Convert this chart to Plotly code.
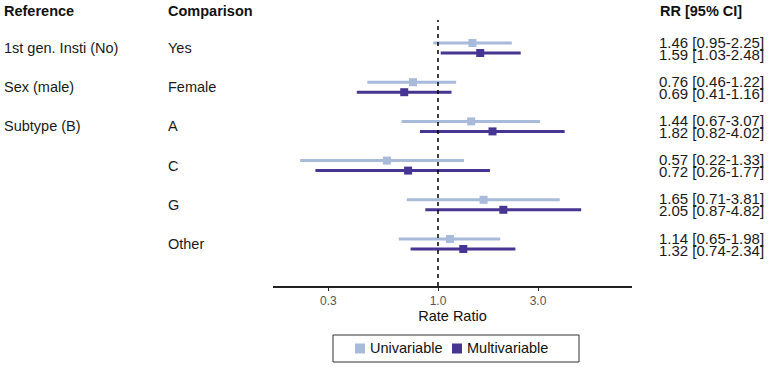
import math
import plotly.graph_objects as go

# ---- data ----
reference = ["1st gen. Insti (No)", "Sex (male)", "Subtype (B)", "", "", ""]
comparison = ["Yes", "Female", "A", "C", "G", "Other"]
uni_rr = [1.46, 0.76, 1.44, 0.57, 1.65, 1.14]
uni_lo = [0.95, 0.46, 0.67, 0.22, 0.71, 0.65]
uni_hi = [2.25, 1.22, 3.07, 1.33, 3.81, 1.98]
multi_rr = [1.59, 0.69, 1.82, 0.72, 2.05, 1.32]
multi_lo = [1.03, 0.41, 0.82, 0.26, 0.87, 0.74]
multi_hi = [2.48, 1.16, 4.02, 1.77, 4.82, 2.34]
series_names = ["Univariable", "Multivariable"]
tick_vals = [0.3, 1.0, 3.0]
tick_text = ["0.3", "1.0", "3.0"]

UNI_C = "#a8bbdb"
MULTI_C = "#473593"

W, H = 768, 367
L, R, T, B = 273, 632, 20, 286

def px(xp):
    return (xp - L) / (R - L)

def py(yp):
    return (B - yp) / (B - T)

rows = list(range(len(comparison)))
row_px = 39.2
off = 5 / row_px
toff = 6 / row_px

fig = go.Figure()
fig.add_trace(go.Scatter(
    x=uni_rr, y=[r - off for r in rows], mode="markers", name=series_names[0],
    marker=dict(symbol="square", size=8, color=UNI_C),
    error_x=dict(type="data", symmetric=False,
                 array=[h - m for h, m in zip(uni_hi, uni_rr)],
                 arrayminus=[m - l for m, l in zip(uni_rr, uni_lo)],
                 color=UNI_C, thickness=3, width=0),
    showlegend=False, hoverinfo="skip"))
fig.add_trace(go.Scatter(
    x=multi_rr, y=[r + off for r in rows], mode="markers", name=series_names[1],
    marker=dict(symbol="square", size=8, color=MULTI_C),
    error_x=dict(type="data", symmetric=False,
                 array=[h - m for h, m in zip(multi_hi, multi_rr)],
                 arrayminus=[m - l for m, l in zip(multi_rr, multi_lo)],
                 color=MULTI_C, thickness=3, width=0),
    showlegend=False, hoverinfo="skip"))

fig.add_shape(type="line", xref="x", yref="paper", x0=1, x1=1, y0=0, y1=1,
              line=dict(color="black", width=1.5, dash="4px,4px"))

FAM = "Liberation Sans, Arial, sans-serif"
font = dict(family=FAM, size=14.5, color="#1a1a1a")
vfont = dict(family=FAM, size=15, color="#1a1a1a")
bold = dict(family=FAM, size=14.5, color="#111111")

ann = []
ann.append(dict(x=px(2), y=py(11), xref="paper", yref="paper", text="<b>Reference</b>",
                showarrow=False, xanchor="left", yanchor="middle", font=bold))
ann.append(dict(x=px(166), y=py(11), xref="paper", yref="paper", text="<b>Comparison</b>",
                showarrow=False, xanchor="left", yanchor="middle", font=bold))
ann.append(dict(x=px(658), y=py(11), xref="paper", yref="paper", text="<b>RR [95% CI]</b>",
                showarrow=False, xanchor="left", yanchor="middle", font=bold))
for r in rows:
    if reference[r]:
        ann.append(dict(x=px(2), y=r, xref="paper", yref="y", text=reference[r],
                        showarrow=False, xanchor="left", yanchor="middle", font=font))
    ann.append(dict(x=px(166), y=r, xref="paper", yref="y", text=comparison[r],
                    showarrow=False, xanchor="left", yanchor="middle", font=font))
    ann.append(dict(x=px(657), y=r - toff, xref="paper", yref="y",
                    text=f"{uni_rr[r]:.2f} [{uni_lo[r]:.2f}-{uni_hi[r]:.2f}]",
                    showarrow=False, xanchor="left", yanchor="middle", font=vfont))
    ann.append(dict(x=px(657), y=r + toff, xref="paper", yref="y",
                    text=f"{multi_rr[r]:.2f} [{multi_lo[r]:.2f}-{multi_hi[r]:.2f}]",
                    showarrow=False, xanchor="left", yanchor="middle", font=vfont))

# manual legend (box, swatches, labels)
fig.add_shape(type="rect", xref="paper", yref="paper", x0=px(333), x1=px(579),
              y0=py(335), y1=py(362), line=dict(color="#333333", width=1), fillcolor="white")
for sx, tx, c, name in [(355, 368, UNI_C, series_names[0]), (452, 465, MULTI_C, series_names[1])]:
    fig.add_shape(type="rect", xref="paper", yref="paper", x0=px(sx), x1=px(sx + 10),
                  y0=py(343.5), y1=py(353.5), line=dict(width=0), fillcolor=c)
    ann.append(dict(x=px(tx), y=py(348.5), xref="paper", yref="paper", text=name,
                    showarrow=False, xanchor="left", yanchor="middle",
                    font=dict(family=FAM, size=14.5, color="#111111")))

x0 = 10 ** ((273 - 438) / 209.6)
x1 = 10 ** ((632 - 438) / 209.6)
y_top = -(48 - 20) / row_px
y_bot = (286 - 48) / row_px

fig.update_layout(
    width=W, height=H,
    margin=dict(l=L, r=W - R, t=T, b=H - B),
    paper_bgcolor="white", plot_bgcolor="white",
    font=dict(family=FAM),
    annotations=ann,
    showlegend=False,
    xaxis=dict(type="log", range=[math.log10(x0), math.log10(x1)],
               tickvals=tick_vals, ticktext=tick_text,
               showgrid=False, zeroline=False, showline=True, linecolor="#222222", linewidth=1.5,
               ticks="outside", ticklen=3, tickcolor="#222222", tickwidth=1,
               ticklabelstandoff=0,
               tickfont=dict(size=12, color="#555555"),
               title=dict(text="Rate Ratio", font=dict(size=14.5, color="#111111"), standoff=2)),
    yaxis=dict(range=[y_bot, y_top], showgrid=False, zeroline=False, showline=False,
               showticklabels=False, ticks=""),
)

fig.write_html("out.html",
               config={"displayModeBar": False},
               post_script="document.body.style.margin='0';document.body.style.padding='0';"
                           "document.documentElement.style.overflow='hidden';")
